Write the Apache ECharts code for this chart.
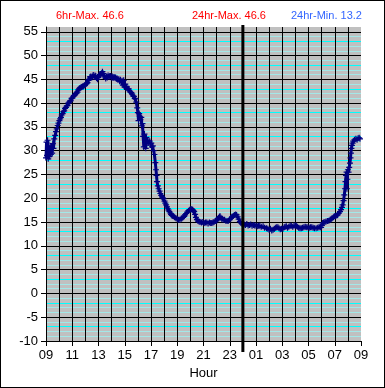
<!DOCTYPE html>
<html>
<head>
<meta charset="utf-8">
<script src="https://cdn.jsdelivr.net/npm/echarts@6/dist/echarts.min.js"></script>
<style>
html,body{margin:0;padding:0;background:#fff;}
#c{width:383px;height:386px;border:1px solid #000;}
</style>
</head>
<body>
<div id="c"></div>
<script>
// hours elapsed since 09:00 (start of the 24h window)
const hours = [0.00,0.04,0.08,0.12,0.17,0.22,0.27,0.32,0.37,0.42,0.47,0.52,0.57,0.63,0.70,0.76,0.82,0.89,0.95,1.02,1.08,1.14,1.20,1.27,1.33,1.39,1.45,1.52,1.58,1.64,1.70,1.77,1.83,1.89,1.95,2.02,2.08,2.14,2.20,2.27,2.33,2.40,2.46,2.52,2.58,2.65,2.72,2.78,2.84,2.90,2.97,3.03,3.10,3.16,3.22,3.28,3.35,3.41,3.48,3.54,3.60,3.67,3.73,3.79,3.85,3.92,3.98,4.05,4.11,4.17,4.23,4.30,4.36,4.42,4.48,4.55,4.61,4.67,4.73,4.80,4.86,4.92,4.98,5.05,5.11,5.17,5.23,5.30,5.36,5.42,5.48,5.55,5.61,5.67,5.74,5.80,5.86,5.92,5.98,6.04,6.10,6.16,6.23,6.30,6.36,6.43,6.50,6.57,6.63,6.70,6.76,6.82,6.88,6.95,7.00,7.05,7.10,7.15,7.20,7.26,7.30,7.35,7.40,7.45,7.50,7.55,7.60,7.65,7.70,7.77,7.83,7.90,7.96,8.02,8.08,8.14,8.20,8.26,8.33,8.38,8.42,8.46,8.52,8.58,8.65,8.71,8.78,8.84,8.90,8.96,9.03,9.09,9.15,9.22,9.28,9.34,9.40,9.47,9.53,9.59,9.66,9.72,9.80,9.90,10.00,10.10,10.20,10.30,10.36,10.45,10.53,10.60,10.68,10.76,10.86,10.95,11.03,11.10,11.17,11.23,11.29,11.36,11.42,11.50,11.58,11.66,11.74,11.85,11.95,12.05,12.15,12.25,12.35,12.45,12.55,12.63,12.72,12.80,12.90,13.00,13.08,13.15,13.22,13.26,13.33,13.40,13.50,13.60,13.70,13.80,13.90,14.00,14.08,14.17,14.27,14.35,14.45,14.52,14.60,14.68,14.77,14.85,14.95,15.02,15.10,15.20,15.30,15.40,15.50,15.60,15.70,15.80,15.90,16.00,16.10,16.20,16.29,16.40,16.54,16.65,16.80,16.90,17.00,17.10,17.20,17.30,17.40,17.50,17.58,17.67,17.75,17.85,17.95,18.05,18.15,18.22,18.31,18.40,18.50,18.60,18.69,18.80,18.90,19.00,19.07,19.15,19.25,19.35,19.45,19.55,19.65,19.75,19.83,19.95,20.05,20.15,20.25,20.35,20.45,20.58,20.70,20.80,20.90,20.96,21.02,21.08,21.15,21.25,21.34,21.45,21.55,21.65,21.72,21.80,21.90,21.97,22.05,22.15,22.22,22.30,22.40,22.48,22.55,22.60,22.67,22.73,22.78,22.82,22.86,22.90,22.93,22.96,23.00,23.05,23.10,23.16,23.20,23.23,23.27,23.31,23.36,23.41,23.50,23.61,23.70,23.78,23.86,23.92];
const temps = [28.5,31.8,29.0,32.2,28.3,30.5,28.8,31.0,29.2,30.8,29.5,31.5,30.5,32.5,33.2,34.0,34.6,35.3,35.8,36.3,36.7,37.0,37.5,37.8,38.2,38.4,38.9,39.1,39.4,39.5,40.0,40.2,40.4,40.5,41.0,41.1,41.4,41.6,41.8,42.0,42.1,42.3,42.8,43.0,43.2,43.3,43.4,43.5,43.5,43.65,43.8,44.0,44.1,44.3,44.8,45.0,45.5,45.6,45.4,45.6,45.9,45.5,45.8,45.7,45.3,45.0,45.4,45.8,46.0,46.1,46.3,46.6,46.2,45.8,45.5,45.2,45.6,45.4,45.8,45.5,45.7,45.7,45.4,45.6,45.3,45.5,45.4,45.4,45.1,45.2,44.9,45.0,44.6,44.9,44.5,44.7,43.8,44.8,43.4,44.0,43.2,43.4,43.0,43.0,42.6,42.3,42.2,41.9,41.5,41.4,41.0,40.9,40.2,39.0,38.0,36.3,37.8,37.2,36.5,37.0,35.2,35.7,33.0,30.8,33.5,32.0,30.5,32.8,31.6,32.2,31.6,32.0,31.2,31.6,30.8,31.0,30.0,29.2,27.5,26.0,24.8,23.5,22.6,22.0,21.5,21.0,20.6,20.3,20.1,19.9,19.4,19.0,18.6,18.2,17.8,17.5,17.2,16.9,16.6,16.4,16.3,16.2,16.0,15.8,15.6,15.5,15.5,15.7,15.8,16.0,16.2,16.5,16.8,17.1,17.4,17.6,17.7,17.7,17.6,17.4,17.2,16.6,16.0,15.5,15.2,15.1,15.0,14.9,15.0,14.8,14.9,14.9,14.7,14.9,14.8,14.8,14.9,15.0,15.2,15.3,15.6,15.9,16.1,16.2,15.9,15.6,15.5,15.5,15.3,15.2,15.3,15.5,15.8,16.1,16.3,16.5,16.6,16.5,16.1,15.6,15.1,14.8,14.6,14.6,14.5,14.4,14.6,14.3,14.4,14.5,14.2,14.4,14.3,14.3,14.1,14.2,14.2,14.0,14.1,13.8,13.7,13.6,13.4,13.6,13.2,13.4,13.6,13.8,13.9,13.9,13.7,13.5,13.6,13.6,13.9,14.0,14.1,13.8,14.0,14.2,14.2,14.0,14.3,14.2,14.2,14.0,13.8,13.7,13.7,13.8,13.9,14.0,13.9,13.9,13.8,13.9,13.9,13.8,13.7,13.7,13.8,13.9,13.9,13.9,14.3,14.8,14.9,15.0,15.1,15.2,15.3,15.5,15.6,15.8,16.0,16.2,16.3,16.4,16.5,16.8,17.2,17.6,18.1,18.6,19.5,20.7,22.0,23.5,24.8,25.5,22.0,24.0,26.0,25.5,26.5,27.4,28.5,29.5,30.5,31.1,31.6,32.0,32.3,32.5,32.3,32.6,32.7,32.5];

const xTickLabels = ['09','11','13','15','17','19','21','23','01','03','05','07','09'];
const yTickLabels = ['-10','-5','0','5','10','15','20','25','30','35','40','45','50','55'];
const statLabels = ['6hr-Max.', '24hr-Max.', '24hr-Min.'];
const statValues = [46.6, 46.6, 13.2];
const midnightOffset = 15; // 00:00 is 15 h after 09:00

const yMin = -10, yMax = 56, xMin = 0, xMax = 24;
const xTickValues = xTickLabels.map((_, i) => i * 2);
const yTickValues = yTickLabels.map(Number);
const data = hours.map((h, i) => [h, temps[i]]);

const font = "'Liberation Sans', Arial, sans-serif";
const chart = echarts.init(document.getElementById('c'), null, {renderer: 'canvas'});

chart.setOption({
  animation: false,
  backgroundColor: '#ffffff',
  title: [
    {text: statLabels[0] + ' ' + statValues[0], left: 50, top: 4, textStyle: {color: '#ff0000', fontSize: 11, fontWeight: 'normal', fontFamily: font}},
    {text: statLabels[1] + ' ' + statValues[1], left: 186, top: 4, textStyle: {color: '#ff0000', fontSize: 11, fontWeight: 'normal', fontFamily: font}},
    {text: statLabels[2] + ' ' + statValues[2], left: 285, top: 4, textStyle: {color: '#3366ff', fontSize: 11, fontWeight: 'normal', fontFamily: font}}
  ],
  grid: {left: 45, right: 23, top: 26, bottom: 46, containLabel: false, show: true, backgroundColor: '#c0c0c0', borderWidth: 0},
  xAxis: [{
    // hourly black grid lines
    type: 'value', min: xMin, max: xMax, interval: 1, z: 2,
    axisLine: {show: false}, axisTick: {show: false}, axisLabel: {show: false},
    splitLine: {show: true, showMaxLine: false, lineStyle: {color: '#000', width: 1}}
  }, {
    // labelled axis
    type: 'value', min: xMin, max: xMax, interval: 2, z: 3, position: 'bottom',
    name: 'Hour', nameLocation: 'middle', nameGap: 26,
    nameTextStyle: {color: '#000', fontSize: 13, fontFamily: font},
    axisLine: {show: true, onZero: false, lineStyle: {color: '#000', width: 1}},
    axisTick: {show: true, length: 5, customValues: xTickValues, lineStyle: {color: '#000'}},
    axisLabel: {customValues: xTickValues, margin: 8, color: '#000', fontSize: 13, fontFamily: font,
      formatter: v => xTickLabels[Math.round(v / 2)] || ''},
    splitLine: {show: false}
  }],
  yAxis: [{
    // 1-unit grid lines: black every 5, cyan in between
    type: 'value', min: yMin, max: yMax, interval: 1, z: 1,
    axisLine: {show: true, lineStyle: {color: '#000', width: 1}},
    axisTick: {show: false}, axisLabel: {show: false},
    splitLine: {show: true, showMaxLine: false,
      lineStyle: {color: ['#000000', '#a3e8e8', '#a3e8e8', '#00ffff', '#a3e8e8'], width: 1}}
  }, {
    // labelled axis
    type: 'value', min: yMin, max: yMax, interval: 5, z: 3, position: 'left',
    axisLine: {show: false},
    axisTick: {show: true, length: 5, customValues: yTickValues, lineStyle: {color: '#000'}},
    axisLabel: {customValues: yTickValues, margin: 8, color: '#000', fontSize: 13, fontFamily: font,
      formatter: v => String(v)},
    splitLine: {show: false}
  }],
  series: [{
    type: 'line',
    xAxisIndex: 0, yAxisIndex: 0,
    data: data,
    showSymbol: true,
    symbol: 'path://M0,2H5V3H0ZM2,0H3V5H2Z',
    symbolSize: 6,
    itemStyle: {color: '#000080'},
    lineStyle: {color: '#000080', width: 3},
    z: 5
  }]
});

const mx = chart.convertToPixel({xAxisIndex: 0}, midnightOffset);
const yTop = chart.convertToPixel({yAxisIndex: 0}, yMax);
const yBot = chart.convertToPixel({yAxisIndex: 0}, yMin);
chart.setOption({
  graphic: [{
    type: 'line', z: 100,
    shape: {x1: mx, y1: yTop - 2, x2: mx, y2: yBot + 11},
    style: {stroke: '#000', lineWidth: 3}
  }]
});
</script>
</body>
</html>
